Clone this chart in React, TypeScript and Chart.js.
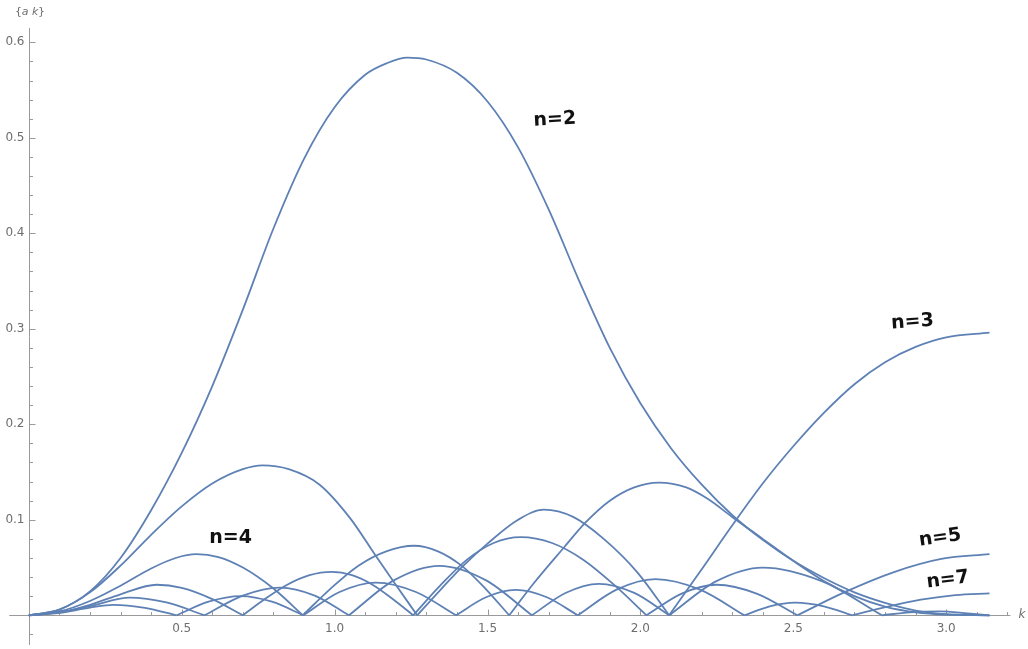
import React, { useEffect, useRef } from "react";
import { Chart, registerables } from "chart.js";

Chart.register(...registerables);

// ---------- data ----------
// each curve = list of humps, each hump = list of [k, |a|] pairs
const curveN2: number[][][] = [
  [[0, 0], [0.1, 0.006], [0.2, 0.025], [0.3, 0.06], [0.4, 0.11], [0.5, 0.17], [0.6, 0.24], [0.7, 0.32],
   [0.8, 0.405], [0.9, 0.478], [1.0, 0.532], [1.1, 0.566], [1.17, 0.578], [1.238, 0.584], [1.3, 0.582],
   [1.4, 0.568], [1.5, 0.538], [1.6, 0.49], [1.7, 0.425], [1.8, 0.35], [1.9, 0.28], [2.0, 0.222],
   [2.1, 0.175], [2.2, 0.137], [2.3, 0.105], [2.4, 0.079], [2.5, 0.057], [2.6, 0.039], [2.7, 0.024],
   [2.8, 0.013], [2.9, 0.005], [3.0, 0.0012], [3.1416, 0]],
];

const curveN3: number[][][] = [
  [[0, 0], [0.1, 0.006], [0.2, 0.024], [0.3, 0.052], [0.396, 0.083], [0.5, 0.114], [0.6, 0.138], [0.7, 0.153],
   [0.764, 0.157], [0.85, 0.153], [0.95, 0.137], [1.05, 0.102], [1.135, 0.062], [1.2, 0.032], [1.27, 0]],
  [[1.27, 0], [1.35, 0.028], [1.418, 0.051], [1.5, 0.075], [1.6, 0.1], [1.684, 0.1106], [1.78, 0.103],
   [1.88, 0.08], [1.99, 0.045], [2.094, 0]],
  [[2.094, 0], [2.2, 0.048], [2.3, 0.094], [2.4, 0.138], [2.5, 0.177], [2.6, 0.212], [2.7, 0.242],
   [2.8, 0.265], [2.9, 0.281], [3.0, 0.291], [3.1416, 0.296]],
];

const curveN4: number[][][] = [
  [[0, 0], [0.1, 0.004], [0.2, 0.015], [0.3, 0.031], [0.4, 0.049], [0.48, 0.06], [0.548, 0.064], [0.62, 0.061],
   [0.7, 0.05], [0.8, 0.028], [0.896, 0]],
  [[0.896, 0], [0.987, 0.028], [1.078, 0.052], [1.169, 0.067], [1.26, 0.0728], [1.338, 0.067], [1.415, 0.052],
   [1.493, 0.028], [1.571, 0]],
  [[1.571, 0], [1.65, 0.033], [1.75, 0.071], [1.82, 0.097], [1.9, 0.12], [1.98, 0.134], [2.06, 0.139],
   [2.15, 0.134], [2.22, 0.122], [2.3, 0.103], [2.4, 0.08], [2.5, 0.057], [2.6, 0.036], [2.7, 0.02],
   [2.8, 0.009], [2.9, 0.003], [3.0, 0.0006], [3.1416, 0]],
];

const curveN5: number[][][] = [
  [[0, 0], [0.1, 0.003], [0.2, 0.011], [0.3, 0.022], [0.418, 0.032], [0.5, 0.0287], [0.6, 0.017], [0.7, 0]],
  [[0.7, 0], [0.772, 0.017], [0.845, 0.032], [0.918, 0.042], [0.99, 0.0455], [1.057, 0.042], [1.124, 0.032],
   [1.19, 0.017], [1.257, 0]],
  [[1.257, 0], [1.345, 0.031], [1.432, 0.058], [1.52, 0.0757], [1.608, 0.0819], [1.711, 0.0757],
   [1.814, 0.058], [1.917, 0.031], [2.02, 0]],
  [[2.02, 0], [2.135, 0.0227], [2.25, 0.032], [2.38, 0.0227], [2.513, 0]],
  [[2.513, 0], [2.67, 0.0245], [2.827, 0.045], [2.984, 0.059], [3.1416, 0.064]],
];

const curveN6: number[][][] = [
  [[0, 0], [0.1, 0.003], [0.2, 0.0095], [0.33, 0.0186], [0.45, 0.0134], [0.575, 0]],
  [[0.575, 0], [0.7, 0.0206], [0.82, 0.029], [0.935, 0.0206], [1.047, 0]],
  [[1.047, 0], [1.195, 0.0368], [1.342, 0.0518], [1.494, 0.0368], [1.645, 0]],
  [[1.645, 0], [1.755, 0.0234], [1.864, 0.033], [1.98, 0.0234], [2.094, 0]],
  [[2.094, 0], [2.247, 0.0355], [2.4, 0.05], [2.595, 0.0355], [2.79, 0]],
  [[2.79, 0], [2.88, 0.003], [2.98, 0.004], [3.07, 0.002], [3.1416, 0]],
];

const curveN7: number[][][] = [
  [[0, 0], [0.1, 0.0025], [0.2, 0.008], [0.276, 0.011], [0.38, 0.0078], [0.483, 0]],
  [[0.483, 0], [0.588, 0.0142], [0.693, 0.02], [0.795, 0.0142], [0.898, 0]],
  [[0.898, 0], [1.016, 0.0244], [1.135, 0.0343], [1.266, 0.0244], [1.397, 0]],
  [[1.397, 0], [1.495, 0.0189], [1.592, 0.0266], [1.694, 0.0189], [1.795, 0]],
  [[1.795, 0], [1.922, 0.0269], [2.049, 0.0379], [2.195, 0.0269], [2.34, 0]],
  [[2.34, 0], [2.423, 0.0094], [2.506, 0.0133], [2.6, 0.0094], [2.693, 0]],
  [[2.693, 0], [2.805, 0.0088], [2.917, 0.0163], [3.03, 0.0212], [3.1416, 0.023]],
];

const xTickValues = [0.5, 1.0, 1.5, 2.0, 2.5, 3.0];
const xTickLabels = ["0.5", "1.0", "1.5", "2.0", "2.5", "3.0"];
const yTickValues = [0.1, 0.2, 0.3, 0.4, 0.5, 0.6];
const yTickLabels = ["0.1", "0.2", "0.3", "0.4", "0.5", "0.6"];

const noteTexts = ["n=2", "n=3", "n=4", "n=5", "n=7"];
const noteK = [1.72, 2.89, 0.66, 2.98, 3.005];
const noteV = [0.519, 0.307, 0.081, 0.081, 0.037];
const noteAngle = [-3, -4, 0, -8, -7];

// ---------- layout ----------
const W = 1028;
const H = 649;
const X_MIN = -0.0942;
const X_MAX = 3.2675;
const Y_MIN = -0.0353;
const Y_MAX = 0.6443;
const LINE = "#5E81B5";
const AXIS = "#9a9a9a";
const LABEL = "#6e6e6e";

const axesPlugin = {
  id: "mmaAxes",
  beforeDatasetsDraw(chart: any) {
    const ctx = chart.ctx;
    const xs = chart.scales.x;
    const ys = chart.scales.y;
    const X = (v: number) => xs.getPixelForValue(v);
    const Y = (v: number) => ys.getPixelForValue(v);
    const x0 = Math.round(X(0)) + 0.5;
    const y0 = Math.round(Y(0)) + 0.5;
    ctx.save();
    ctx.strokeStyle = AXIS;
    ctx.lineWidth = 1;
    ctx.beginPath();
    ctx.moveTo(X(-0.064), y0);
    ctx.lineTo(X(3.21), y0);
    ctx.moveTo(x0, Y(-0.031));
    ctx.lineTo(x0, Y(0.615));
    for (let i = 1; i <= 32; i++) {
      const v = i / 10;
      const major = i % 5 === 0;
      const px = Math.round(X(v)) + 0.5;
      ctx.moveTo(px, y0);
      ctx.lineTo(px, y0 - (major ? 6 : 3.5));
    }
    for (let i = -1; i <= 30; i++) {
      if (i === 0) continue;
      const v = i * 0.02;
      const major = i % 5 === 0;
      const py = Math.round(Y(v)) + 0.5;
      ctx.moveTo(x0, py);
      ctx.lineTo(x0 + (major ? 6 : 3.5), py);
    }
    ctx.stroke();

    ctx.fillStyle = LABEL;
    ctx.font = "12px 'DejaVu Sans', sans-serif";
    ctx.textAlign = "center";
    ctx.textBaseline = "middle";
    xTickValues.forEach((v, i) => ctx.fillText(xTickLabels[i], X(v), y0 + 13));
    ctx.textAlign = "right";
    yTickValues.forEach((v, i) => ctx.fillText(yTickLabels[i], x0 - 5, Y(v)));

    ctx.textAlign = "center";
    ctx.font = "11px 'DejaVu Sans', sans-serif";
    ctx.fillText("{", x0 - 11, 12);
    ctx.fillText("}", x0 + 12, 12);
    ctx.font = "italic 11px 'DejaVu Sans', sans-serif";
    ctx.fillText("a k", x0 + 0.5, 12);
    ctx.font = "italic 12px 'DejaVu Sans', sans-serif";
    ctx.fillText("k", 1022, y0 - 1);
    ctx.restore();
  },
  afterDatasetsDraw(chart: any) {
    const ctx = chart.ctx;
    const xs = chart.scales.x;
    const ys = chart.scales.y;
    ctx.save();
    ctx.fillStyle = "#111";
    ctx.font = "bold 19px 'DejaVu Sans', sans-serif";
    ctx.textAlign = "center";
    ctx.textBaseline = "middle";
    noteTexts.forEach((t, i) => {
      ctx.save();
      ctx.translate(xs.getPixelForValue(noteK[i]), ys.getPixelForValue(noteV[i]));
      ctx.rotate((noteAngle[i] * Math.PI) / 180);
      ctx.fillText(t, 0, 0);
      ctx.restore();
    });
    ctx.restore();
  },
};

export default function App() {
  const ref = useRef<HTMLCanvasElement | null>(null);

  useEffect(() => {
    if (!ref.current) return;
    const curves = [curveN2, curveN3, curveN4, curveN5, curveN6, curveN7];
    const datasets: any[] = [];
    curves.forEach((humps) =>
      humps.forEach((hump) =>
        datasets.push({
          data: hump.map(([x, y]) => ({ x, y })),
          borderColor: LINE,
          borderWidth: 1.8,
          pointRadius: 0,
          fill: false,
          cubicInterpolationMode: "monotone",
        })
      )
    );
    const chart = new Chart(ref.current, {
      type: "line",
      data: { datasets },
      options: {
        animation: false,
        responsive: false,
        maintainAspectRatio: false,
        layout: { padding: 0 },
        scales: {
          x: { type: "linear", min: X_MIN, max: X_MAX, display: false },
          y: { type: "linear", min: Y_MIN, max: Y_MAX, display: false },
        },
        plugins: { legend: { display: false }, tooltip: { enabled: false } },
      },
      plugins: [axesPlugin],
    });
    return () => chart.destroy();
  }, []);

  return (
    <div style={{ position: "absolute", left: 0, top: 0, width: W, height: H, background: "#fff" }}>
      <canvas ref={ref} width={W} height={H} style={{ display: "block", width: W, height: H }} />
    </div>
  );
}
